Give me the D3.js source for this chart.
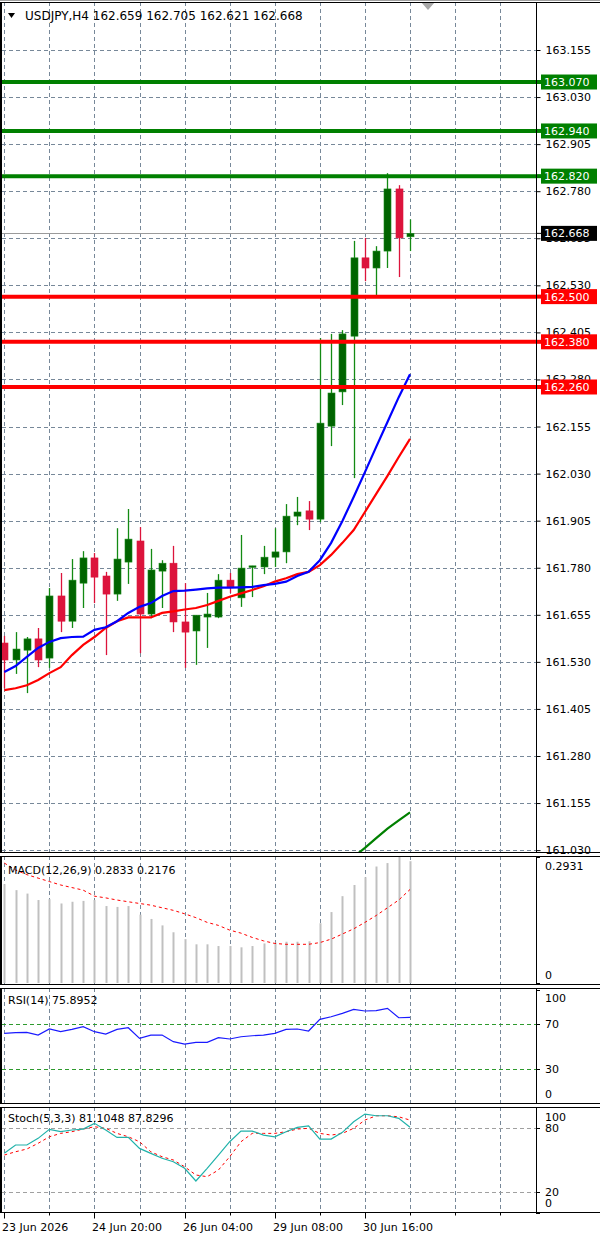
<!DOCTYPE html>
<html>
<head>
<meta charset="utf-8">
<script src="https://cdn.jsdelivr.net/npm/d3@7"></script>
<style>
    body { margin: 0; background: #fff; }
    svg { display: block; font-family: "DejaVu Sans", Verdana, sans-serif; font-size: 11px; }
</style>
</head>
<body>
<svg id="drawing_region"></svg>
<script>
// ---- values ----
const headerText = "USDJPY,H4  162.659 162.705 162.621 162.668";

const opens  = [161.580,161.535,161.561,161.591,161.540,161.705,161.638,161.739,161.806,161.758,161.710,161.795,161.851,161.657,161.771,161.792,161.636,161.612,161.649,161.649,161.747,161.700,161.782,161.782,161.808,161.822,161.917,161.931,161.909,162.156,162.247,162.395,162.603,162.576,162.621,162.786,162.659];
const highs  = [161.599,161.609,161.596,161.620,161.726,161.766,161.803,161.824,161.819,161.769,161.885,161.936,161.888,161.830,161.800,161.838,161.739,161.654,161.713,161.763,161.766,161.867,161.785,161.838,161.885,161.949,161.968,161.957,162.390,162.401,162.411,162.648,162.656,162.634,162.828,162.796,162.705];
const lows   = [161.460,161.498,161.447,161.516,161.514,161.609,161.620,161.673,161.686,161.548,161.692,161.737,161.553,161.646,161.673,161.609,161.514,161.522,161.567,161.646,161.713,161.676,161.702,161.763,161.782,161.792,161.893,161.880,161.901,162.103,162.212,162.018,162.541,162.502,162.576,162.552,162.621];
const closes = [161.535,161.564,161.591,161.535,161.705,161.638,161.747,161.806,161.755,161.710,161.803,161.856,161.657,161.774,161.792,161.636,161.609,161.654,161.657,161.747,161.729,161.779,161.785,161.808,161.822,161.917,161.928,161.909,162.164,162.244,162.401,162.603,162.576,162.621,162.786,162.656,162.668];

const maFast = [161.503,161.519,161.543,161.567,161.583,161.593,161.596,161.597,161.615,161.622,161.638,161.660,161.676,161.686,161.705,161.718,161.719,161.722,161.725,161.727,161.727,161.728,161.729,161.734,161.737,161.743,161.758,161.769,161.800,161.846,161.904,161.968,162.034,162.101,162.167,162.233,162.294];
const maSlow = [161.455,161.460,161.468,161.482,161.500,161.516,161.548,161.575,161.596,161.620,161.638,161.648,161.648,161.648,161.660,161.664,161.669,161.673,161.681,161.692,161.703,161.712,161.721,161.731,161.743,161.752,161.763,161.769,161.787,161.814,161.846,161.880,161.928,161.976,162.024,162.074,162.122];
const maLong = [null,null,null,null,null,null,null,null,null,null,null,null,null,null,null,null,null,null,null,null,null,null,null,null,null,null,null,null,null,null,160.988,161.012,161.036,161.062,161.087,161.109,161.130];

const priceTicks = [163.155,163.030,162.905,162.780,162.655,162.530,162.405,162.280,162.155,162.030,161.905,161.780,161.655,161.530,161.405,161.280,161.155,161.030];
const resistLevels = [163.070,162.940,162.820];
const supportLevels = [162.500,162.380,162.260];
const lastPrice = 162.668;

const macdHist   = [0.230,0.216,0.208,0.193,0.195,0.185,0.189,0.191,0.193,0.179,0.177,0.179,0.159,0.149,0.134,0.118,0.102,0.090,0.090,0.086,0.086,0.083,0.086,0.092,0.094,0.096,0.096,0.097,0.139,0.165,0.202,0.228,0.246,0.271,0.279,0.2931,0.2833];
const macdSignal = [0.279,0.263,0.252,0.244,0.236,0.228,0.222,0.216,0.202,0.198,0.193,0.189,0.185,0.181,0.175,0.169,0.161,0.152,0.141,0.134,0.123,0.116,0.106,0.098,0.092,0.090,0.090,0.090,0.094,0.102,0.114,0.126,0.141,0.157,0.175,0.193,0.2176];
const macdTicks = [0.2931, 0];

const rsiValues = [61.7,62.3,62.6,60.2,65.6,63.2,65.2,67.6,63.2,61.1,65.2,66.7,57.3,60.2,60.2,54.3,52.2,53.7,53.7,57.9,56.7,58.7,59.6,60.2,61.7,65.2,65.6,63.8,74.2,76.5,79.5,83.0,81.6,81.9,84.0,75.6,75.9];
const rsiLevels = [70, 30];
const rsiTicks = [100, 70, 30, 0];

const stochK = [56.3,64.2,64.2,70.5,79.0,76.8,78.4,79.3,84.7,78.4,71.4,71.4,61.0,56.3,51.6,48.4,42.1,30.1,42.1,54.7,67.3,77.4,77.4,73.6,72.0,76.8,80.9,82.4,69.8,69.8,76.2,86.2,93.5,91.9,91.9,89.4,81.1];
const stochD = [54.7,57.8,60.4,65.8,72.0,75.2,76.8,79.3,81.5,80.0,75.2,72.0,67.3,57.8,53.1,50.0,43.6,35.8,34.2,40.5,53.1,67.3,75.2,75.2,75.2,76.8,79.3,80.0,75.2,73.6,75.2,80.0,87.8,91.9,91.9,90.9,87.8];
const stochLevels = [80, 20];
const stochTicks = [100, 80, 20, 0];

const xTickBars = [0, 8, 16, 24, 32];
const xTickLabels = ["23 Jun 2026", "24 Jun 20:00", "26 Jun 04:00", "29 Jun 08:00", "30 Jun 16:00"];

// ---- layout ----
const W = 600, H = 1235, axisX = 536;
const panels = {
    main:  {top: 2,    bottom: 852},
    macd:  {top: 856,  bottom: 984},
    rsi:   {top: 988,  bottom: 1103},
    stoch: {top: 1107, bottom: 1212}
};
const gridColor = '#778899';
const bull = '#006400', bear = '#dc143c';

const svg = d3.select('#drawing_region').attr('width', W).attr('height', H);

const xscale = d3.scaleLinear().domain([0, 47]).range([4.3, 4.3 + 11.27 * 47]);
const px = i => Math.round(xscale(i)) + 0.5;

const yMain  = d3.scaleLinear().domain([161.025, 163.2825]).range([panels.main.bottom, panels.main.top]);
const yMacd  = d3.scaleLinear().domain([0, 0.2931]).range([983, 857]);
const yRsi   = d3.scaleLinear().domain([0, 100]).range([1102.75, 990.3]);
const yStoch = d3.scaleLinear().domain([0, 100]).range([1212.8, 1107.2]);

const gridBars = d3.range(0, 48, 4).filter(i => xscale(i) < axisX - 2);

// clip paths for each panel
const defs = svg.append('defs');
Object.entries(panels).forEach(([k, p]) => {
    defs.append('clipPath').attr('id', 'clip-' + k)
        .append('rect').attr('x', 2).attr('y', p.top + 1)
        .attr('width', axisX - 2).attr('height', p.bottom - p.top - 1);
});

function drawPanelFrame(p, yscale, hTicks) {
    const g = svg.append('g');
    g.selectAll('line.vgrid').data(gridBars).enter().append('line')
        .attr('x1', d => px(d)).attr('x2', d => px(d))
        .attr('y1', p.top).attr('y2', p.bottom)
        .attr('stroke', gridColor).attr('stroke-dasharray', '4,3');
    if (hTicks) {
        g.selectAll('line.hgrid').data(hTicks).enter().append('line')
            .attr('x1', 2).attr('x2', axisX)
            .attr('y1', d => Math.round(yscale(d)) + 0.5).attr('y2', d => Math.round(yscale(d)) + 0.5)
            .attr('stroke', gridColor).attr('stroke-dasharray', '4,3');
    }
    return g;
}

function drawBorders() {
    Object.values(panels).forEach(p => {
        svg.append('line').attr('x1', 0).attr('x2', W).attr('y1', p.top + 0.5).attr('y2', p.top + 0.5).attr('stroke', '#000');
        svg.append('line').attr('x1', 0).attr('x2', W).attr('y1', p.bottom + 0.5).attr('y2', p.bottom + 0.5).attr('stroke', '#000');
        svg.append('line').attr('x1', 1).attr('x2', 1).attr('y1', p.top).attr('y2', p.bottom).attr('stroke', '#000').attr('stroke-width', 2);
        svg.append('line').attr('x1', axisX + 0.5).attr('x2', axisX + 0.5).attr('y1', p.top).attr('y2', p.bottom).attr('stroke', '#000');
    });
    svg.append('line').attr('x1', 0).attr('x2', W).attr('y1', 0.5).attr('y2', 0.5).attr('stroke', '#a0a0a0');
}

function sideLabels(values, yscale, p, fmt) {
    svg.append('g').selectAll('text').data(values).enter().append('text')
        .attr('x', axisX + 9)
        .attr('y', d => Math.max(p.top + 10, Math.min(p.bottom - 9, yscale(d))))
        .attr('dy', '0.35em')
        .attr('fill', '#000')
        .text(fmt);
    svg.append('g').selectAll('line').data(values).enter().append('line')
        .attr('x1', axisX).attr('x2', axisX + 4)
        .attr('y1', d => Math.round(yscale(d)) + 0.5).attr('y2', d => Math.round(yscale(d)) + 0.5)
        .attr('stroke', '#000');
}

// ---- main price panel ----
const pm = panels.main;
drawPanelFrame(pm, yMain, priceTicks);

const main = svg.append('g').attr('clip-path', 'url(#clip-main)');

// horizontal levels
const levels = resistLevels.map(v => ({v, color: '#008000'}))
    .concat(supportLevels.map(v => ({v, color: '#ff0000'})));

main.append('line')
    .attr('x1', 2).attr('x2', axisX)
    .attr('y1', Math.round(yMain(lastPrice)) + 0.5).attr('y2', Math.round(yMain(lastPrice)) + 0.5)
    .attr('stroke', '#9a9a9a');

const candles = opens.map((o, i) => ({i, o, h: highs[i], l: lows[i], c: closes[i]}));

main.selectAll('line.wick').data(candles).enter().append('line')
    .attr('x1', d => px(d.i)).attr('x2', d => px(d.i))
    .attr('y1', d => yMain(d.h)).attr('y2', d => yMain(d.l))
    .attr('stroke', d => d.c >= d.o ? '#138a13' : bear)
    .attr('stroke-width', 1.3);

main.selectAll('rect.body').data(candles).enter().append('rect')
    .attr('x', d => px(d.i) - 3.5)
    .attr('width', 7)
    .attr('y', d => yMain(Math.max(d.o, d.c)))
    .attr('height', d => Math.max(1.5, Math.abs(yMain(d.o) - yMain(d.c))))
    .attr('fill', d => d.c >= d.o ? bull : bear)
    .attr('stroke', d => d.c >= d.o ? '#1a8a1a' : bear)
    .attr('stroke-width', 0.6);

const line = d3.line()
    .defined(d => d.v !== null)
    .x(d => xscale(d.i))
    .y(d => yMain(d.v));

[[maSlow, '#ff0000'], [maFast, '#0000ff'], [maLong, '#008000']].forEach(([arr, color]) => {
    main.append('path')
        .attr('d', line(arr.map((v, i) => ({i, v}))))
        .attr('fill', 'none')
        .attr('stroke', color)
        .attr('stroke-width', 2.2);
});

main.selectAll('line.level').data(levels).enter().append('line')
    .attr('x1', 0).attr('x2', axisX)
    .attr('y1', d => yMain(d.v)).attr('y2', d => yMain(d.v))
    .attr('stroke', d => d.color)
    .attr('stroke-width', 4);

svg.append('text').attr('x', 25).attr('y', 20).attr('font-size', 12).attr('fill', '#000').text(headerText);
svg.append('path').attr('d', 'M8,13 L15,13 L11.5,18 Z').attr('fill', '#000');
svg.append('path').attr('d', 'M421,2 L435,2 L428,10 Z').attr('fill', '#a8a8a8');

// right price scale
svg.append('g')
    .attr('transform', `translate(${axisX + 0.5},0)`)
    .call(d3.axisRight(yMain).tickValues(priceTicks).tickSize(4).tickPadding(5).tickFormat(d3.format('.3f')))
    .attr('font-family', null).attr('font-size', null)
    .call(g => g.select('.domain').remove())
    .call(g => g.selectAll('text').attr('fill', '#000'));

const tags = levels.map(d => ({v: d.v, color: d.color}))
    .concat([{v: lastPrice, color: '#000'}]);
const tagG = svg.append('g').selectAll('g').data(tags).enter().append('g')
    .attr('transform', d => `translate(0,${yMain(d.v)})`);
tagG.append('line').attr('x1', axisX).attr('x2', 542).attr('stroke', d => d.color).attr('stroke-width', d => d.color === '#000' ? 1 : 4);
tagG.append('rect').attr('x', 541).attr('y', -7.5).attr('width', 56).attr('height', 15).attr('fill', d => d.color);
tagG.append('text').attr('x', 544).attr('dy', '0.36em').attr('fill', '#fff').text(d => d3.format('.3f')(d.v));

// ---- MACD ----
const pmacd = panels.macd;
drawPanelFrame(pmacd, yMacd, null);
const gMacd = svg.append('g').attr('clip-path', 'url(#clip-macd)');
gMacd.selectAll('line.bar').data(macdHist).enter().append('line')
    .attr('x1', (d, i) => px(i)).attr('x2', (d, i) => px(i))
    .attr('y1', yMacd(0)).attr('y2', d => yMacd(d))
    .attr('stroke', '#c0c0c0').attr('stroke-width', 2);
gMacd.append('path')
    .attr('d', d3.line().x((d, i) => xscale(i)).y(d => yMacd(d))(macdSignal))
    .attr('fill', 'none').attr('stroke', '#ff0000').attr('stroke-dasharray', '3,3');
svg.append('text').attr('x', 8).attr('y', 874).attr('fill', '#000').text('MACD(12,26,9) 0.2833 0.2176');
sideLabels(macdTicks, yMacd, pmacd, d => d === 0 ? '0' : d3.format('.4f')(d));

// ---- RSI ----
const prsi = panels.rsi;
drawPanelFrame(prsi, yRsi, null);
const gRsi = svg.append('g').attr('clip-path', 'url(#clip-rsi)');
gRsi.selectAll('line.lvl').data(rsiLevels).enter().append('line')
    .attr('x1', 2).attr('x2', axisX)
    .attr('y1', d => Math.round(yRsi(d)) + 0.5).attr('y2', d => Math.round(yRsi(d)) + 0.5)
    .attr('stroke', '#2e9a2e').attr('stroke-dasharray', '4,3');
gRsi.append('path')
    .attr('d', d3.line().x((d, i) => xscale(i)).y(d => yRsi(d))(rsiValues))
    .attr('fill', 'none').attr('stroke', '#1a1aff').attr('stroke-width', 1.2);
svg.append('text').attr('x', 8).attr('y', 1004).attr('fill', '#000').text('RSI(14) 75.8952');
sideLabels(rsiTicks, yRsi, prsi, d => d);

// ---- Stochastic ----
const pst = panels.stoch;
drawPanelFrame(pst, yStoch, null);
const gSt = svg.append('g').attr('clip-path', 'url(#clip-stoch)');
gSt.selectAll('line.lvl').data(stochLevels).enter().append('line')
    .attr('x1', 2).attr('x2', axisX)
    .attr('y1', d => Math.round(yStoch(d)) + 0.5).attr('y2', d => Math.round(yStoch(d)) + 0.5)
    .attr('stroke', '#a0a0a0').attr('stroke-dasharray', '4,3');
gSt.append('path')
    .attr('d', d3.line().x((d, i) => xscale(i)).y(d => yStoch(d))(stochD))
    .attr('fill', 'none').attr('stroke', '#ff0000').attr('stroke-dasharray', '3,3');
gSt.append('path')
    .attr('d', d3.line().x((d, i) => xscale(i)).y(d => yStoch(d))(stochK))
    .attr('fill', 'none').attr('stroke', '#20b2aa').attr('stroke-width', 1.2);
svg.append('text').attr('x', 8).attr('y', 1122).attr('fill', '#000').text('Stoch(5,3,3) 81.1048 87.8296');
sideLabels(stochTicks, yStoch, pst, d => d);

drawBorders();

// ---- time axis ----
const xg = svg.append('g').attr('transform', `translate(0,${pst.bottom + 0.5})`);
xg.selectAll('line.tk').data(gridBars).enter().append('line')
    .attr('x1', d => px(d)).attr('x2', d => px(d))
    .attr('y1', 0).attr('y2', d => xTickBars.includes(d) ? 6 : 3)
    .attr('stroke', '#000');
xg.selectAll('text').data(xTickBars).enter().append('text')
    .attr('x', d => px(d) - 2.5)
    .attr('y', 18)
    .attr('fill', '#000')
    .text((d, i) => xTickLabels[i]);
</script>
</body>
</html>
